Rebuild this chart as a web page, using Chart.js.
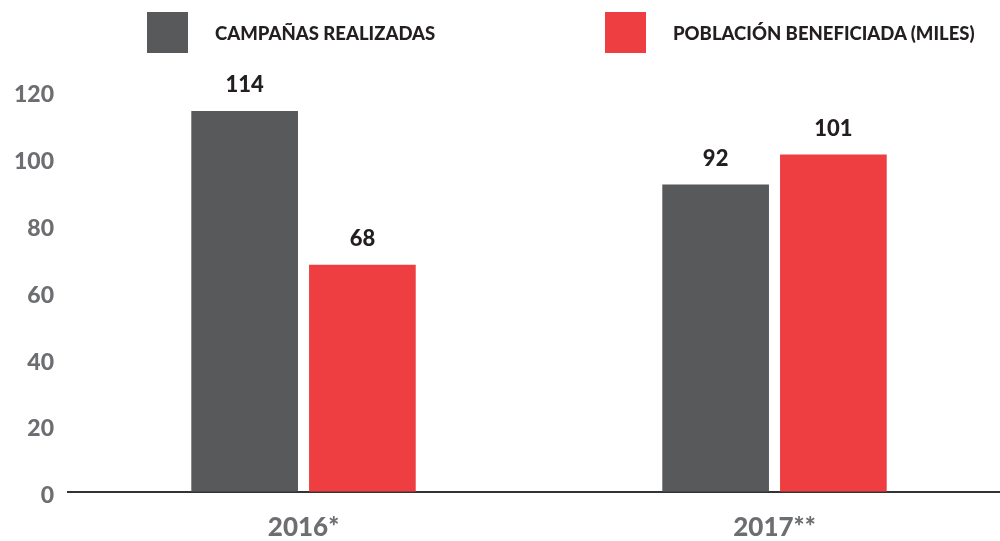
<!DOCTYPE html>
<html lang="es">
<head>
  <meta charset="UTF-8" />
  <title>Campañas y población beneficiada</title>
  <script src="https://cdn.jsdelivr.net/npm/chart.js"></script>
  <style>
    html, body {
      margin: 0;
      padding: 0;
      width: 1000px;
      height: 541px;
      overflow: hidden;
      background: #ffffff;
      font-family: Lato, "Open Sans", sans-serif;
    }

    /* a bit larger than the window so the plot lands where the original does */
    .chart-container {
      position: absolute;
      left: 0;
      top: 0;
      width: 1010px;
      height: 565px;
    }

    .legend {
      position: absolute;
      top: 12px;
      display: flex;
      align-items: center;
      font-weight: 900;
      font-size: 18.5px;
      color: #231f20;
      z-index: 2;
    }

    .legend span.box {
      display: inline-block;
      width: 41px;
      height: 41px;
      margin-right: 27px;
    }
  </style>
</head>
<body>
  <div class="chart-container">
    <canvas id="barChart"></canvas>
  </div>
  <div id="legend1" class="legend" style="left:147px"></div>
  <div id="legend2" class="legend" style="left:605px"></div>

  <script>
    const years = ['2016*', '2017**'];
    const campanas = [114, 92];
    const poblacion = [68, 101];
    const seriesNames = ['CAMPAÑAS REALIZADAS', 'POBLACIÓN BENEFICIADA (MILES)'];
    const colors = ['#58595b', '#ef3e42'];

    // legend as plain html
    ['legend1', 'legend2'].forEach((id, i) => {
      const el = document.getElementById(id);
      el.innerHTML = '<span class="box" style="background:' + colors[i] + '"></span>' + seriesNames[i];
    });

    // numbers above each bar
    const valueLabels = {
      id: 'valueLabels',
      afterDatasetsDraw(chart) {
        const ctx = chart.ctx;
        ctx.save();
        ctx.font = '900 22px Lato, sans-serif';
        ctx.fillStyle = '#231f20';
        ctx.textAlign = 'center';
        ctx.textBaseline = 'middle';
        chart.data.datasets.forEach((ds, i) => {
          chart.getDatasetMeta(i).data.forEach((bar, j) => {
            ctx.fillText(ds.data[j], bar.x, bar.y - 26);
          });
        });
        ctx.restore();
      }
    };

    const ctx = document.getElementById('barChart').getContext('2d');
    const chart = new Chart(ctx, {
      type: 'bar',
      data: {
        labels: years,
        datasets: [
          {
            label: seriesNames[0],
            data: campanas,
            backgroundColor: colors[0],
            barPercentage: 0.906,
            categoryPercentage: 0.5
          },
          {
            label: seriesNames[1],
            data: poblacion,
            backgroundColor: colors[1],
            barPercentage: 0.906,
            categoryPercentage: 0.5
          }
        ]
      },
      options: {
        responsive: true,
        maintainAspectRatio: false,
        animation: false,
        layout: {
          padding: { top: 91, left: 0, right: 0, bottom: 2 }
        },
        scales: {
          x: {
            grid: { display: false, drawTicks: false },
            border: { display: true, color: '#333333', width: 2 },
            ticks: {
              color: '#6d6e71',
              padding: 20,
              font: { family: 'Lato', size: 26, weight: '900' }
            }
          },
          y: {
            min: 0,
            max: 120,
            grid: { display: false, drawTicks: false },
            border: { display: false },
            ticks: {
              stepSize: 20,
              color: '#6d6e71',
              padding: 14,
              labelOffset: 4,
              font: { family: 'Lato', size: 23, weight: '900' }
            }
          }
        },
        plugins: {
          legend: { display: false },
          tooltip: { enabled: false }
        }
      },
      plugins: [valueLabels]
    });
  </script>
</body>
</html>
